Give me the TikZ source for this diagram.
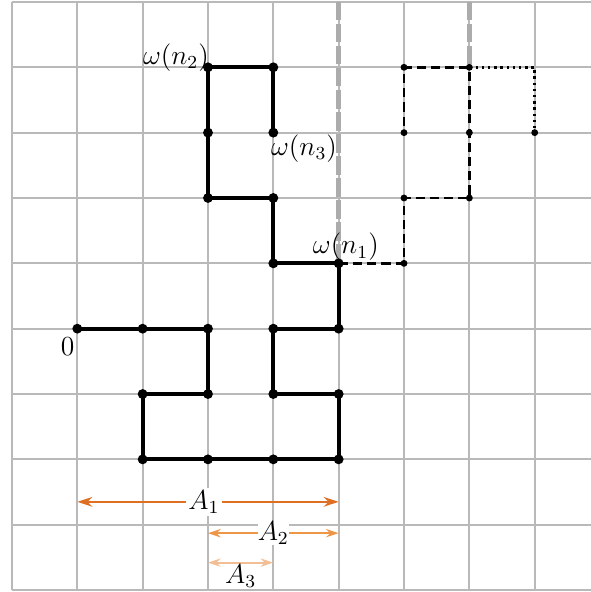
\documentclass[tikz,border=0pt]{standalone}
\usetikzlibrary{arrows.meta}
\definecolor{gridgray}{RGB}{185,185,185}
\definecolor{wallgray}{RGB}{172,172,172}
\definecolor{aone}{RGB}{222,112,36}
\definecolor{atwo}{RGB}{238,150,72}
\definecolor{athree}{RGB}{242,190,150}
\begin{document}
\begin{tikzpicture}[x=1cm,y=1cm,
  walk/.style={line width=1.7pt, black, line join=round},
  futwalk/.style={line width=1.1pt, dash pattern=on 4pt off 2.2pt},
  altwalk/.style={line width=1.1pt, dash pattern=on 1.1pt off 1.6pt},
  wall/.style={wallgray, line width=1.9pt, dash pattern=on 8pt off 1.6pt},
  bigdot/.style={circle, fill=black, inner sep=0pt, minimum size=4.3pt},
  smalldot/.style={circle, fill=black, inner sep=0pt, minimum size=3pt},
  lbl/.style={inner sep=0pt, font=\large},
  measone/.style={aone, line width=1.1pt, {Stealth[length=6.5pt,width=4.2pt]}-{Stealth[length=6.5pt,width=4.2pt]}},
  meastwo/.style={atwo, line width=0.9pt, {Stealth[length=5.5pt,width=3.6pt]}-{Stealth[length=5.5pt,width=3.6pt]}},
  measthree/.style={athree, line width=0.9pt, {Stealth[length=5.5pt,width=3.6pt]}-{Stealth[length=5.5pt,width=3.6pt]}},
  mlabel/.style={fill=white, inner sep=1pt, text=black, font=\large},
]
\useasboundingbox (-1.183,-4.03) rectangle (7.855,5.03);
\draw[gridgray, line width=0.85pt] (-1,-4) grid (7.855,5);

% walk points
\coordinate (p0) at (0,0);
\coordinate (p1) at (1,0);
\coordinate (p2) at (2,0);
\coordinate (p3) at (2,-1);
\coordinate (p4) at (1,-1);
\coordinate (p5) at (1,-2);
\coordinate (p6) at (2,-2);
\coordinate (p7) at (3,-2);
\coordinate (p8) at (4,-2);
\coordinate (p9) at (4,-1);
\coordinate (p10) at (3,-1);
\coordinate (p11) at (3,0);
\coordinate (p12) at (4,0);
\coordinate (p13) at (4,1);
\coordinate (p14) at (3,1);
\coordinate (p15) at (3,2);
\coordinate (p16) at (2,2);
\coordinate (p17) at (2,3);
\coordinate (p18) at (2,4);
\coordinate (p19) at (3,4);
\coordinate (p20) at (3,3);
% future
\coordinate (f1) at (5,1);
\coordinate (f2) at (5,2);
\coordinate (f3) at (6,2);
\coordinate (f4) at (6,3);
\coordinate (f5) at (6,4);
\coordinate (f6) at (5,4);
\coordinate (f7) at (5,3);
\coordinate (g1) at (7,4);
\coordinate (g2) at (7,3);
% walls
\coordinate (w1) at (4,5);
\coordinate (w2) at (6,5);

\draw[wall] (w1) -- (p13);
\draw[wall] (w2) -- (f5);

\draw[walk] (p0) -- (p1) -- (p2) -- (p3) -- (p4) -- (p5) -- (p6) -- (p7) -- (p8)
  -- (p9) -- (p10) -- (p11) -- (p12) -- (p13) -- (p14) -- (p15) -- (p16) -- (p17)
  -- (p18) -- (p19) -- (p20);
\draw[futwalk] (p13) -- (f1) -- (f2) -- (f3) -- (f4) -- (f5) -- (f6) -- (f7);
\draw[altwalk] (f5) -- (g1) -- (g2);

\foreach \i in {0,...,20} \node[bigdot] (d\i) at (p\i) {};
\foreach \i in {1,...,7} \node[smalldot] (e\i) at (f\i) {};
\node[smalldot] (eg) at (g2) {};

\node[lbl] (l0) at (-0.15,-0.27) {$0$};
\node[lbl] (ln1) at (4.11,1.25) {$\omega(n_1)$};
\node[lbl] (ln2) at (1.51,4.15) {$\omega(n_2)$};
\node[lbl] (ln3) at (3.47,2.76) {$\omega(n_3)$};

% measures
\coordinate (a1l) at (0,-2.65);
\coordinate (a1r) at (4,-2.65);
\coordinate (a2l) at (2,-3.13);
\coordinate (a2r) at (4,-3.13);
\coordinate (a3l) at (2,-3.58);
\coordinate (a3r) at (3,-3.58);
\draw[measone] (a1l) -- node[mlabel, pos=0.485] (A1) {$A_1$} (a1r);
\draw[meastwo] (a2l) -- node[mlabel, inner sep=0pt] (A2) {$A_2$} (a2r);
\draw[measthree] (a3l) -- node[below, inner sep=0.5pt, text=black, font=\large] (A3) {$A_3$} (a3r);
\end{tikzpicture}
\end{document}
